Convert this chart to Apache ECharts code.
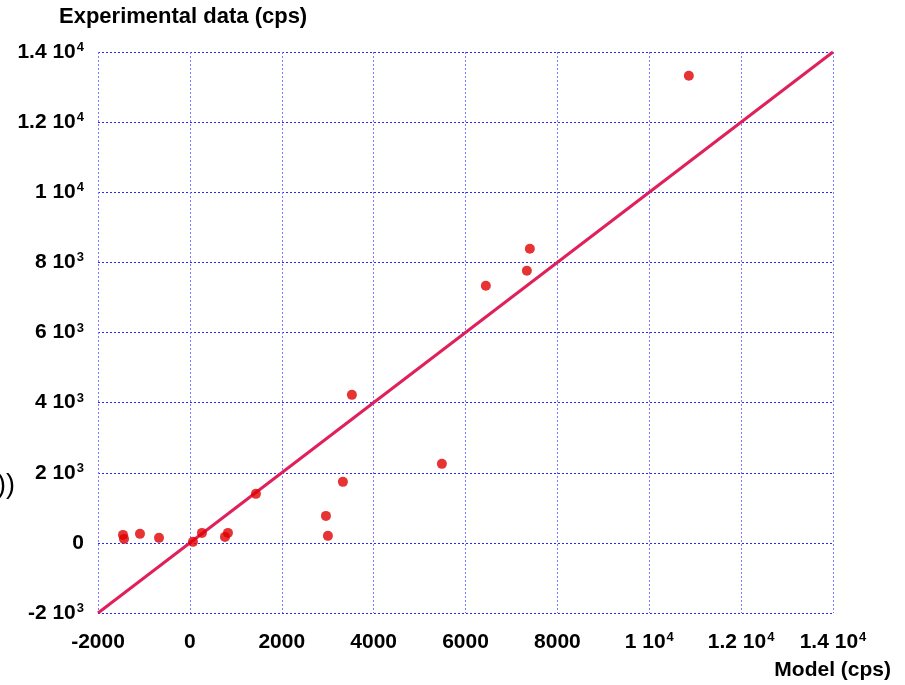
<!DOCTYPE html>
<html>
<head>
<meta charset="utf-8">
<script src="https://cdn.jsdelivr.net/npm/echarts@6/dist/echarts.min.js"></script>
<style>
  html, body { margin: 0; padding: 0; background: #fff; }
  #chart { width: 905px; height: 685px; }
</style>
</head>
<body>
<div id="chart"></div>
<script>
// 模型值 (x) 和实验值 (y)
var modelValues = [-1456, -1434, -1086, -672, 67, 263, 764, 829, 1438, 2962, 3005, 3331, 3527, 5486, 6443, 7336, 7401, 10862];
var expValues = [228, 114, 257, 143, 29, 285, 171, 285, 1398, 770, 200, 1740, 4222, 2254, 7332, 7760, 8388, 13324];
// y = x 参考线
var fitLine = [[-2000, -2000], [14000, 14000]];
// 刻度标签: [底数, 指数]
var xTickLabels = [["-2000", ""], ["0", ""], ["2000", ""], ["4000", ""], ["6000", ""], ["8000", ""], ["1 10", "4"], ["1.2 10", "4"], ["1.4 10", "4"]];
var yTickLabels = [["-2 10", "3"], ["0", ""], ["2 10", "3"], ["4 10", "3"], ["6 10", "3"], ["8 10", "3"], ["1 10", "4"], ["1.2 10", "4"], ["1.4 10", "4"]];

var points = [];
for (var i = 0; i < modelValues.length; i++) {
    points.push([modelValues[i], expValues[i]]);
}

function tickFmt(labels) {
    return function (value) {
        var idx = Math.round((value + 2000) / 2000);
        var l = labels[idx];
        if (!l) return "";
        return l[1] ? "{b|" + l[0] + "}{s|" + l[1] + "}" : "{b|" + l[0] + "}";
    };
}

var rich = {
    b: { fontFamily: "Liberation Sans", fontWeight: "bold", fontSize: 21, lineHeight: 22, color: "#000" },
    s: { fontFamily: "Liberation Sans", fontWeight: "bold", fontSize: 13, lineHeight: 22, color: "#000", verticalAlign: "top", padding: [0, 0, 10, 1] }
};

var myChart = echarts.init(document.getElementById("chart"));
var option = {
    animation: false,
    backgroundColor: "#fff",
    grid: { left: 98, right: 72, top: 52, bottom: 72, containLabel: false },
    xAxis: {
        type: "value",
        min: -2000, max: 14000, interval: 2000,
        axisLine: { show: false },
        axisTick: { show: false },
        axisLabel: { formatter: tickFmt(xTickLabels), rich: rich, margin: 18 },
        splitLine: { show: true, lineStyle: { color: "#7a7aff", type: [2, 2], width: 1 } }
    },
    yAxis: {
        type: "value",
        min: -2000, max: 14000, interval: 2000,
        axisLine: { show: false },
        axisTick: { show: false },
        axisLabel: { formatter: tickFmt(yTickLabels), rich: rich, margin: 14 },
        splitLine: { show: true, lineStyle: { color: "#2a2aee", type: [2, 2], width: 1 } }
    },
    graphic: [
        { type: "text", left: 59, top: 6, style: { text: "Experimental data (cps)", font: "bold 22px 'Liberation Sans'", fill: "#000" } },
        { type: "text", right: 14, top: 660, style: { text: "Model (cps)", font: "bold 21px 'Liberation Sans'", fill: "#000" } },
        { type: "text", left: -3, top: 472, style: { text: "))", font: "27px 'Liberation Sans'", fill: "#000" } }
    ],
    series: [
        {
            type: "line",
            data: fitLine,
            symbol: "none",
            lineStyle: { color: "#e0205a", width: 3 },
            z: 2
        },
        {
            type: "scatter",
            data: points,
            symbolSize: 10,
            itemStyle: { color: "#e00000" },
            z: 3
        }
    ]
};
myChart.setOption(option);
window.addEventListener("resize", function () {
    myChart.resize();
});
</script>
</body>
</html>
